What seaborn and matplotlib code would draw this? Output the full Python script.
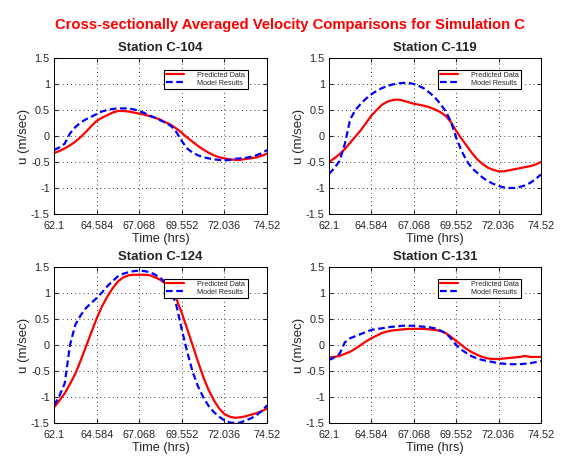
import numpy as np
import pandas as pd
import matplotlib
matplotlib.use("Agg")
import matplotlib.pyplot as plt
import seaborn as sns

# time axis (hrs), sampled every eighth of a tick step
time = [62.1, 62.4105, 62.721, 63.0315, 63.342, 63.6525, 63.963, 64.2735, 64.584,
        64.8945, 65.205, 65.5155, 65.826, 66.1365, 66.447, 66.7575, 67.068, 67.3785,
        67.689, 67.9995, 68.31, 68.6205, 68.931, 69.2415, 69.552, 69.8625, 70.173,
        70.4835, 70.794, 71.1045, 71.415, 71.7255, 72.036, 72.3465, 72.657, 72.9675,
        73.278, 73.5885, 73.899, 74.2095, 74.52]

stations = ["C-104", "C-119", "C-124", "C-131"]

pred_104 = [-0.33, -0.29, -0.24, -0.18, -0.11, -0.02, 0.08, 0.19, 0.29, 0.35, 0.40,
            0.45, 0.48, 0.48, 0.47, 0.45, 0.43, 0.41, 0.38, 0.35, 0.31, 0.26, 0.21,
            0.14, 0.06, -0.03, -0.11, -0.19, -0.26, -0.32, -0.37, -0.41, -0.43, -0.45,
            -0.46, -0.46, -0.44, -0.43, -0.41, -0.38, -0.34]
model_104 = [-0.27, -0.22, -0.15, 0.05, 0.17, 0.26, 0.32, 0.37, 0.42, 0.47, 0.50,
             0.52, 0.53, 0.53, 0.53, 0.51, 0.48, 0.44, 0.39, 0.35, 0.30, 0.25, 0.19,
             0.07, -0.10, -0.24, -0.32, -0.37, -0.41, -0.43, -0.45, -0.46, -0.47,
             -0.46, -0.44, -0.43, -0.42, -0.40, -0.37, -0.33, -0.27]

pred_119 = [-0.50, -0.43, -0.35, -0.25, -0.13, -0.01, 0.11, 0.25, 0.39, 0.50, 0.60,
            0.66, 0.69, 0.70, 0.68, 0.65, 0.62, 0.60, 0.58, 0.55, 0.51, 0.46, 0.39,
            0.27, 0.10, -0.05, -0.19, -0.33, -0.45, -0.54, -0.61, -0.65, -0.68, -0.68,
            -0.66, -0.64, -0.62, -0.60, -0.58, -0.55, -0.50]
model_119 = [-0.73, -0.62, -0.48, -0.15, 0.32, 0.50, 0.62, 0.72, 0.80, 0.87, 0.92,
             0.96, 0.99, 1.01, 1.02, 1.02, 1.00, 0.96, 0.91, 0.83, 0.74, 0.62, 0.48,
             0.28, -0.03, -0.28, -0.48, -0.62, -0.71, -0.80, -0.87, -0.92, -0.96,
             -0.99, -1.00, -1.00, -0.98, -0.95, -0.90, -0.83, -0.74]

pred_124 = [-1.20, -1.07, -0.93, -0.75, -0.55, -0.30, -0.03, 0.24, 0.51, 0.74, 0.93,
            1.09, 1.22, 1.30, 1.34, 1.35, 1.35, 1.35, 1.34, 1.30, 1.25, 1.17, 1.06,
            0.88, 0.61, 0.31, 0.00, -0.31, -0.61, -0.86, -1.06, -1.22, -1.33, -1.38,
            -1.40, -1.39, -1.37, -1.34, -1.31, -1.27, -1.22]
model_124 = [-1.16, -0.98, -0.74, 0.00, 0.39, 0.57, 0.71, 0.81, 0.90, 1.01, 1.13,
             1.23, 1.32, 1.37, 1.40, 1.42, 1.43, 1.42, 1.40, 1.35, 1.29, 1.18, 1.03,
             0.75, 0.29, -0.13, -0.51, -0.79, -1.00, -1.17, -1.29, -1.38, -1.45,
             -1.49, -1.50, -1.49, -1.45, -1.41, -1.35, -1.27, -1.16]

pred_131 = [-0.24, -0.23, -0.21, -0.17, -0.13, -0.07, 0.00, 0.07, 0.13, 0.18, 0.23,
            0.26, 0.28, 0.29, 0.30, 0.31, 0.31, 0.31, 0.31, 0.30, 0.29, 0.27, 0.23,
            0.16, 0.08, 0.00, -0.08, -0.14, -0.19, -0.23, -0.26, -0.27, -0.27, -0.26,
            -0.25, -0.24, -0.23, -0.21, -0.23, -0.23, -0.23]
model_131 = [-0.29, -0.24, -0.17, 0.05, 0.13, 0.17, 0.21, 0.25, 0.29, 0.31, 0.32,
             0.34, 0.35, 0.36, 0.37, 0.37, 0.37, 0.36, 0.35, 0.34, 0.32, 0.28, 0.23,
             0.13, 0.00, -0.09, -0.16, -0.22, -0.26, -0.29, -0.31, -0.33, -0.35,
             -0.36, -0.37, -0.37, -0.37, -0.36, -0.35, -0.33, -0.31]

predicted = [pred_104, pred_119, pred_124, pred_131]
model = [model_104, model_119, model_124, model_131]

xticks = [62.1, 64.584, 67.068, 69.552, 72.036, 74.52]
xtick_labels = ["62.1", "64.584", "67.068", "69.552", "72.036", "74.52"]
yticks = [-1.5, -1, -0.5, 0, 0.5, 1, 1.5]
ytick_labels = ["-1.5", "-1", "-0.5", "0", "0.5", "1", "1.5"]

sns.set_style("ticks")
plt.rcParams["font.family"] = ["Liberation Sans", "DejaVu Sans"]

fig = plt.figure(figsize=(5.79, 4.70), dpi=100)
fig.text(0.5, 0.947, "Cross-sectionally Averaged Velocity Comparisons for Simulation C",
         color="red", fontsize=10.6, fontweight="bold", ha="center", va="center")

positions = [
    [0.0933, 0.5447, 0.368, 0.332],
    [0.5682, 0.5447, 0.366, 0.332],
    [0.0933, 0.1000, 0.368, 0.332],
    [0.5682, 0.1000, 0.366, 0.332],
]

for i, st in enumerate(stations):
    ax = fig.add_axes(positions[i])
    df = pd.DataFrame({
        "time": time + time,
        "u": predicted[i] + model[i],
        "series": ["Predicted Data"] * len(time) + ["Model Results"] * len(time),
    })
    sns.lineplot(data=df, x="time", y="u", hue="series", style="series",
                 palette={"Predicted Data": "red", "Model Results": "blue"},
                 dashes={"Predicted Data": "", "Model Results": (3, 1.6)},
                 linewidth=1.6, ax=ax)
    ax.set_xlim(62.1, 74.52)
    ax.set_ylim(-1.5, 1.5)
    ax.set_xticks(xticks)
    ax.set_xticklabels(xtick_labels)
    ax.set_yticks(yticks)
    ax.set_yticklabels(ytick_labels)
    ax.tick_params(direction="in", top=True, right=True, labelsize=7.8, length=3)
    ax.tick_params(axis="x", pad=5)
    ax.tick_params(axis="y", pad=3)
    ax.grid(True, linestyle=(0, (1, 4)), color="black", linewidth=0.6)
    for s in ax.spines.values():
        s.set_color("black")
        s.set_linewidth(0.7)
    ax.set_title("Station " + st, fontsize=9.5, fontweight="bold", pad=5)
    ax.set_xlabel("Time (hrs)", fontsize=9.2, labelpad=1.5)
    ax.set_ylabel("u (m/sec)", fontsize=9.5, labelpad=1)
    leg = ax.legend(loc="upper right", bbox_to_anchor=(0.915, 0.935), fontsize=5.2,
                    frameon=True, fancybox=False, framealpha=1, edgecolor="black",
                    handlelength=2.4, borderpad=0.3, labelspacing=0.15,
                    handletextpad=1.9, borderaxespad=0.2)
    leg.get_frame().set_linewidth(0.8)

plt.savefig("out.png", dpi=100)
